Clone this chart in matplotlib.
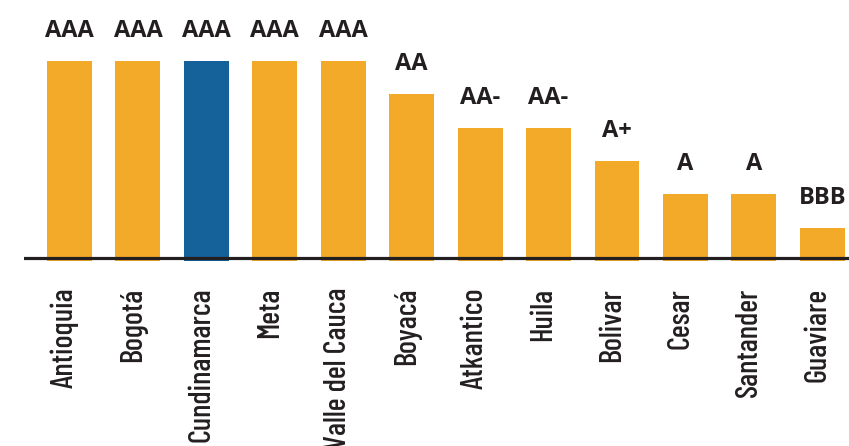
import matplotlib
matplotlib.use('Agg')
import matplotlib.pyplot as plt
import matplotlib.transforms as mtransforms

# Departments and their credit rating (rank: AAA=6 ... BBB=1)
departments = ['Antioquia', 'Bogotá', 'Cundinamarca', 'Meta', 'Valle del Cauca', 'Boyacá',
               'Atkantico', 'Huila', 'Bolivar', 'Cesar', 'Santander', 'Guaviare']
ratings = ['AAA', 'AAA', 'AAA', 'AAA', 'AAA', 'AA', 'AA-', 'AA-', 'A+', 'A', 'A', 'BBB']
scores = [6, 6, 6, 6, 6, 5, 4, 4, 3, 2, 2, 1]
highlight = 'Cundinamarca'

orange = '#F2AA28'
blue = '#156199'
ink = '#231F20'
label_font = ['Barlow Condensed', 'Roboto Condensed', 'DejaVu Sans']

fig = plt.figure(figsize=(8.49, 4.46), dpi=100)
ax = fig.add_axes([24 / 849, 1 - 262 / 446, 825 / 849, 262 / 446])

x = list(range(len(departments)))
colors = [blue if d == highlight else orange for d in departments]
ax.bar(x, scores, width=0.657, bottom=-0.09, color=colors, zorder=2)
ax.axhline(0, color=ink, lw=2.3, zorder=3)

for xi, s, r in zip(x, scores, ratings):
    ax.annotate(r, (xi, s), xytext=(0, 15), textcoords='offset points',
                ha='center', va='baseline', fontsize=17, fontweight='bold',
                family=['Open Sans', 'DejaVu Sans'], color=ink)

ax.set_xlim(-0.665, 11.39)
ax.set_ylim(-0.12, 7.74)
ax.set_xticks(x)
ax.set_xticklabels(departments, rotation=90, ha='center', va='top',
                   fontsize=22, fontweight=500, family=label_font, color=ink)
ax.tick_params(axis='x', length=0, pad=18.5)
ax.set_yticks([])
for sp in ax.spines.values():
    sp.set_visible(False)

# shift category labels a bit left of the bar centre
shift = mtransforms.ScaledTranslation(-5 / 100, 0, fig.dpi_scale_trans)
for lbl in ax.get_xticklabels():
    lbl.set_transform(lbl.get_transform() + shift)

fig.savefig('out.png', dpi=100)
